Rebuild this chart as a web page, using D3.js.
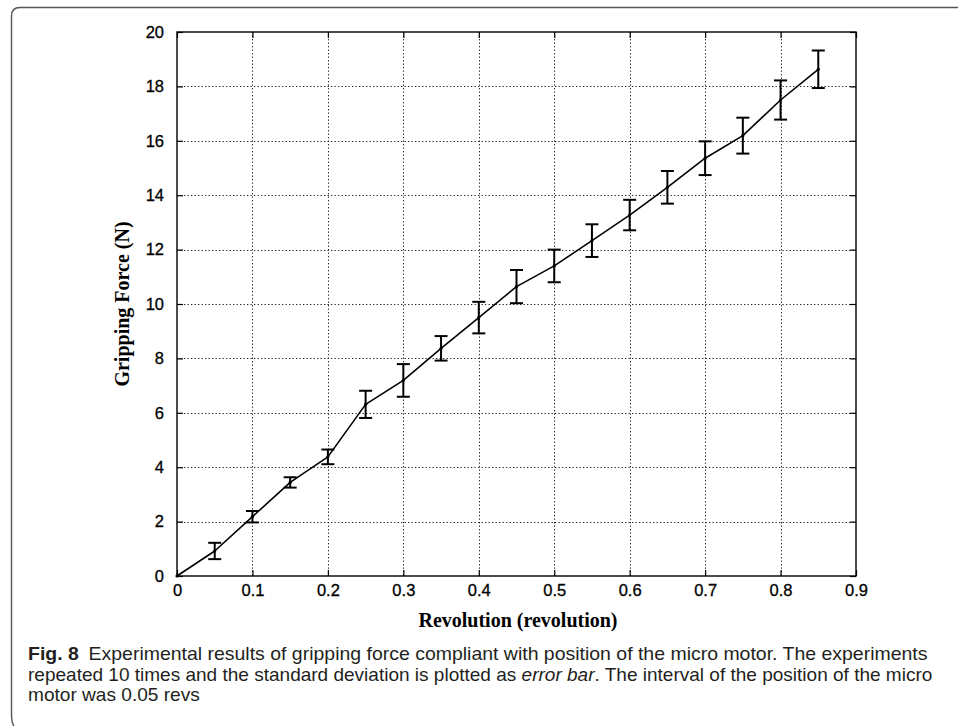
<!DOCTYPE html>
<html>
<head>
<meta charset="utf-8">
<script src="https://cdn.jsdelivr.net/npm/d3@7/dist/d3.min.js"></script>
<style>
  html, body { margin: 0; padding: 0; background: #fff; }
  svg { display: block; }
</style>
</head>
<body>
<script>
// ---- data ----
const revolution = [0, 0.05, 0.1, 0.15, 0.2, 0.25, 0.3, 0.35, 0.4, 0.45, 0.5, 0.55, 0.6, 0.65, 0.7, 0.75, 0.8, 0.85];
const force      = [0, 0.92, 2.18, 3.44, 4.38, 6.31, 7.19, 8.37, 9.5, 10.64, 11.4, 12.33, 13.27, 14.29, 15.36, 16.19, 17.5, 18.63];
const stdDev     = [0, 0.30, 0.21, 0.19, 0.27, 0.50, 0.60, 0.45, 0.58, 0.61, 0.60, 0.60, 0.56, 0.60, 0.62, 0.66, 0.72, 0.69];
const xTicks = [0, 0.1, 0.2, 0.3, 0.4, 0.5, 0.6, 0.7, 0.8, 0.9];
const yTicks = [0, 2, 4, 6, 8, 10, 12, 14, 16, 18, 20];
const xTitle = "Revolution (revolution)";
const yTitle = "Gripping Force (N)";
const captionLines = [
  [{t: "Fig. 8", w: "bold"}, {t: "\u2002Experimental results of gripping force compliant with position of the micro motor. The experiments"}],
  [{t: "repeated 10 times and the standard deviation is plotted as "}, {t: "error bar", s: "italic"}, {t: ". The interval of the position of the micro"}],
  [{t: "motor was 0.05 revs"}]
];

const W = 958, H = 726;
const svg = d3.select("body").append("svg").attr("width", W).attr("height", H);

// frame
svg.append("path")
  .attr("d", "M958,7.5 L20,7.5 Q11.5,7.5 11.5,16 L11.5,716 Q11.5,724 16,730")
  .attr("fill", "none").attr("stroke", "#555").attr("stroke-width", 1.4);

const L = 177, R = 856, T = 32, B = 576;
const x = d3.scaleLinear().domain([0, 0.9]).range([L, R]);
const y = d3.scaleLinear().domain([0, 20]).range([B, T]);

// grid
const grid = svg.append("g").attr("stroke", "#222").attr("stroke-width", 1).attr("stroke-dasharray", "1.3,2.2");
grid.selectAll(".gx").data(xTicks.slice(1, -1)).join("line")
  .attr("x1", d => Math.round(x(d)) + 0.5).attr("x2", d => Math.round(x(d)) + 0.5)
  .attr("y1", T).attr("y2", B);
grid.selectAll(".gy").data(yTicks.slice(1, -1)).join("line")
  .attr("y1", d => Math.round(y(d)) + 0.5).attr("y2", d => Math.round(y(d)) + 0.5)
  .attr("x1", L).attr("x2", R);

// axes
const tickFont = "'Liberation Sans', Arial, sans-serif";
const ax = svg.append("g").attr("transform", `translate(0,${B})`)
  .call(d3.axisBottom(x).tickValues(xTicks).tickFormat(d3.format("")).tickSizeInner(-6).tickSizeOuter(0).tickPadding(12));
const axTop = svg.append("g").attr("transform", `translate(0,${T})`)
  .call(d3.axisTop(x).tickValues(xTicks).tickFormat("").tickSizeInner(-6).tickSizeOuter(0));
const ay = svg.append("g").attr("transform", `translate(${L},0)`)
  .call(d3.axisLeft(y).tickValues(yTicks).tickSizeInner(-6).tickSizeOuter(0).tickPadding(13));
const ayR = svg.append("g").attr("transform", `translate(${R},0)`)
  .call(d3.axisRight(y).tickValues(yTicks).tickFormat("").tickSizeInner(-6).tickSizeOuter(0));
[ax, axTop, ay, ayR].forEach(g => {
  g.select(".domain").remove();
  g.selectAll("line").attr("stroke", "#000").attr("stroke-width", 1.2);
  g.selectAll("text").attr("font-family", tickFont).attr("font-size", 16.5).attr("fill", "#000")
    .attr("stroke", "#000").attr("stroke-width", 0.3);
});
ax.selectAll("text").attr("dy", "0.5em");

// box
svg.append("rect").attr("x", L).attr("y", T).attr("width", R - L).attr("height", B - T)
  .attr("fill", "none").attr("stroke", "#000").attr("stroke-width", 1.4);

// axis titles
svg.append("text").attr("x", 518).attr("y", 627).attr("text-anchor", "middle")
  .attr("font-family", "'Liberation Serif', 'Times New Roman', serif").attr("font-weight", "bold")
  .attr("font-size", 20).attr("fill", "#000").text(xTitle);
svg.append("text").attr("transform", `translate(129,${(T + B) / 2}) rotate(-90)`).attr("text-anchor", "middle")
  .attr("font-family", "'Liberation Serif', 'Times New Roman', serif").attr("font-weight", "bold")
  .attr("font-size", 20).attr("fill", "#000").text(yTitle);

// data line
const pts = revolution.map((r, i) => ({r, f: force[i], s: stdDev[i]}));
svg.append("path").datum(pts)
  .attr("d", d3.line().x(d => x(d.r)).y(d => y(d.f)))
  .attr("fill", "none").attr("stroke", "#000").attr("stroke-width", 1.6).attr("stroke-linejoin", "round");

// error bars
const eb = svg.append("g").attr("stroke", "#000").attr("stroke-width", 2);
const withErr = pts.filter(d => d.s > 0);
eb.selectAll(".v").data(withErr).join("line")
  .attr("x1", d => x(d.r)).attr("x2", d => x(d.r))
  .attr("y1", d => y(d.f - d.s)).attr("y2", d => y(d.f + d.s));
eb.selectAll(".t").data(withErr).join("line")
  .attr("x1", d => x(d.r) - 6.5).attr("x2", d => x(d.r) + 6.5)
  .attr("y1", d => y(d.f + d.s)).attr("y2", d => y(d.f + d.s));
eb.selectAll(".b").data(withErr).join("line")
  .attr("x1", d => x(d.r) - 6.5).attr("x2", d => x(d.r) + 6.5)
  .attr("y1", d => y(d.f - d.s)).attr("y2", d => y(d.f - d.s));
svg.append("g").selectAll("circle").data(pts).join("circle")
  .attr("cx", d => x(d.r)).attr("cy", d => y(d.f)).attr("r", 1.6).attr("fill", "#000");

// caption
const capY = [660, 680.5, 701];
const capStart = 28;
const capEnd = [928, 933, 200];
captionLines.forEach((parts, i) => {
  const t = svg.append("text").attr("x", 0).attr("y", 0)
    .attr("font-family", "'Liberation Sans', Arial, sans-serif").attr("font-size", 17.5).attr("fill", "#231f20");
  parts.forEach(p => {
    t.append("tspan").attr("font-weight", p.w || "normal").attr("font-style", p.s || "normal")
      .style("white-space", "pre").text(p.t);
  });
  const len = t.node().getComputedTextLength();
  const sx = (capEnd[i] - capStart) / len;
  t.attr("transform", `translate(${capStart},${capY[i]}) scale(${sx},1)`);
});
</script>
</body>
</html>
